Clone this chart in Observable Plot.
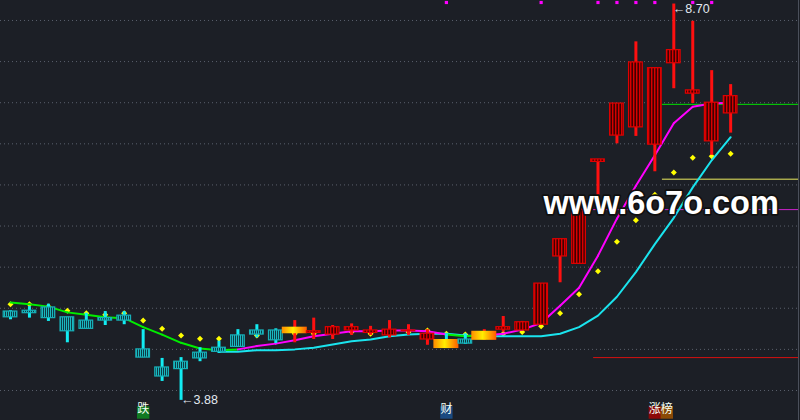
<!DOCTYPE html>
<html><head><meta charset="utf-8">
<script src="https://cdn.jsdelivr.net/npm/d3@7"></script>
<script src="https://cdn.jsdelivr.net/npm/@observablehq/plot@0.6"></script>
<style>
html,body{margin:0;padding:0;background:#1c1f26;}
#chart{width:800px;height:420px;overflow:hidden;}
svg{display:block;}
</style></head><body><div id="chart"></div>
<script>
// ---- data ----
const open  = [4.96,4.97,5.01,4.89,4.85,4.88,4.91,4.50,4.28,4.35,4.46,4.52,4.67,4.73,4.73,4.69,4.70,4.68,4.73,4.70,4.67,4.72,4.62,4.62,4.62,4.61,4.74,4.73,4.80,5.63,5.54,6.78,7.10,7.20,6.99,7.98,7.61,7.03,7.37];
const close = [4.89,4.94,4.88,4.72,4.75,4.85,4.85,4.40,4.17,4.26,4.39,4.47,4.53,4.68,4.61,4.77,4.72,4.77,4.77,4.73,4.74,4.73,4.69,4.51,4.57,4.72,4.77,4.83,5.30,5.84,6.20,6.81,7.49,7.99,7.92,8.14,7.65,7.50,7.58];
const high  = [4.97,5.02,5.05,4.89,4.94,4.96,4.96,4.74,4.39,4.40,4.52,4.60,4.74,4.80,4.75,4.85,4.88,4.79,4.81,4.78,4.85,4.80,4.74,4.69,4.69,4.74,4.90,4.84,5.30,5.84,6.20,6.81,7.49,8.24,7.92,8.70,8.49,7.89,7.72];
const low   = [4.86,4.88,4.84,4.58,4.75,4.79,4.80,4.40,4.11,3.88,4.35,4.45,4.53,4.64,4.57,4.58,4.62,4.62,4.67,4.67,4.64,4.67,4.55,4.51,4.56,4.61,4.71,4.73,4.80,5.31,5.54,6.20,7.00,7.09,6.66,7.67,7.49,6.86,7.13];
const goldCandles = [15, 23, 25];

const fastLine = [5.07,5.05,5.02,4.95,4.92,4.89,4.88,4.77,4.68,4.58,4.51,4.49,4.50,4.54,4.57,4.61,4.66,4.69,4.72,4.72,4.73,4.73,4.72,4.68,4.66,4.67,4.69,4.74,4.82,5.03,5.25,5.64,6.09,6.49,6.86,7.25,7.45,7.49,7.50];
// state of each fast-line segment: "fall" = green, "rise" = magenta
const fastState = [
  "fall","fall","fall","fall","fall","fall","fall","fall","fall","fall","fall","fall",
  "rise","rise","rise","rise","rise","rise","rise","rise","rise","rise","rise",
  "fall","fall",
  "rise","rise","rise","rise","rise","rise","rise","rise","rise","rise","rise","rise","rise"];
const slowStart = 11;
const slowLine = [4.47,4.47,4.49,4.49,4.50,4.52,4.56,4.60,4.62,4.66,4.68,4.69,4.69,4.67,4.66,4.66,4.66,4.66,4.69,4.77,4.91,5.14,5.44,5.78,6.10,6.47,6.80,7.08];
const sarDots = [5.05,5.05,5.02,4.97,4.94,4.92,4.94,4.85,4.75,4.67,4.63,4.63,4.66,4.67,4.68,4.69,4.69,4.69,4.71,4.69,4.69,4.71,4.73,4.69,4.68,4.69,4.69,4.71,4.78,4.94,5.17,5.45,5.81,6.07,6.38,6.65,6.83,6.85,6.88];

const gridTicks = [4, 4.5, 5, 5.5, 6, 6.5, 7, 7.5, 8, 8.5];
const levelValues = [7.48, 6.57, 6.20, 4.40];
const levelStart  = [34.4, 34.4, 30.77, 30.77];
const levelColors = ["#00e000", "#ecec60", "#cc22cc", "#d81010"];

const signalIdx = [23, 28, 31, 32, 33, 34, 36, 37];
const tagText   = ["跌", "财", "涨", "榜"];
const tagPos    = [7, 23, 34, 34.63];
const tagColors = ["#107a22", "#1a4a80", "#8c0808", "#8a4a06"];
const watermark = "www.6o7o.com";

// ---- build ----
const xDomain = [-0.528, 41.58];
const candles = open.map((o, i) => ({
  i, o, c: close[i], h: high[i], l: low[i],
  gold: goldCandles.includes(i), up: close[i] >= o
}));
const hw = d => d.gold ? 0.66 : 0.36;
const fastSegs = fastState.map((s, i) => ({x1: i, y1: fastLine[i], x2: i + 1, y2: fastLine[i + 1], s}));
const levels = levelValues.map((v, k) => ({v, s: levelStart[k], col: levelColors[k]}));
const tags = tagText.map((t, k) => ({t, x: tagPos[k], bg: tagColors[k]}));
const iLow = d3.minIndex(low), iHigh = d3.maxIndex(high);

const svg = Plot.plot({
  width: 800, height: 420,
  marginTop: 0, marginLeft: 0, marginBottom: 0, marginRight: 2,
  style: {background: "#1c1f26", overflow: "visible"},
  x: {type: "linear", domain: xDomain, range: [0, 798], axis: null},
  y: {type: "linear", domain: [3.635, 8.743], range: [420, 0], axis: null},
  color: {type: "identity"},
  marks: [
    Plot.ruleY(gridTicks, {stroke: "#5a606c", strokeDasharray: "1,3", strokeWidth: 1}),
    Plot.frame({anchor: "right", stroke: "#4a4f5a"}),
    Plot.ruleY(levels, {y: "v", x1: "s", x2: xDomain[1], stroke: "col", strokeWidth: 1}),
    Plot.dot(sarDots, {x: (d, i) => i, y: d => d, symbol: "diamond2", r: 2.7, fill: "#ffff00"}),
    Plot.line(slowLine, {x: (d, k) => k + slowStart, y: d => d, stroke: "#1ae4ee", strokeWidth: 2}),
    Plot.link(fastSegs, {x1: "x1", y1: "y1", x2: "x2", y2: "y2",
      stroke: d => d.s === "fall" ? "#00ee00" : "#ff00ff", strokeWidth: 2, strokeLinecap: "round"}),
    Plot.ruleX(candles, {x: "i", y1: "l", y2: "h", stroke: d => d.up ? "#ff1010" : "#12ecf2", strokeWidth: 3}),
    Plot.rect(candles, {
      x1: d => d.i - hw(d), x2: d => d.i + hw(d), y1: "o", y2: "c",
      fill: d => d.gold ? "url(#goldGrad)" : d.up ? "url(#stripeRed)" : "url(#stripeCyan)",
      stroke: d => d.gold ? "none" : d.up ? "#e00000" : "#17b0b8", strokeWidth: 1.2
    }),
    Plot.dot(signalIdx, {x: d => d, frameAnchor: "top", dy: 2, symbol: "square", r: 1.8, fill: "#ff00ff"}),
    Plot.dot(tags, {x: "x", frameAnchor: "bottom", dy: -8, symbol: "square", r: 7, fill: "bg"}),
    Plot.text(tags, {x: "x", text: "t", frameAnchor: "bottom", dy: -8, fill: "#f4fff4",
      fontSize: 12, fontFamily: "Noto Sans CJK SC"}),
    Plot.text([iLow], {x: d => d, y: d => low[d], text: d => "←" + low[d].toFixed(2),
      textAnchor: "start", dx: 0, fill: "#e2e9f0", fontSize: 12.5, fontFamily: "Liberation Sans"}),
    Plot.text([iHigh], {x: d => d, y: d => high[d], text: d => "←" + high[d].toFixed(2),
      textAnchor: "start", dx: -1, dy: 5, fill: "#e2e9f0", fontSize: 12.5, fontFamily: "Liberation Sans"}),
    Plot.text([watermark], {frameAnchor: "top-left", dx: 543, dy: 190, textAnchor: "start",
      fill: "#ffffff", stroke: "#101010", strokeWidth: 3.5, paintOrder: "stroke",
      fontSize: 32.5, fontWeight: "bold", fontFamily: "Liberation Sans"})
  ]
});

const defs = d3.select(svg).insert("defs", ":first-child");
const pr = defs.append("pattern").attr("id", "stripeRed").attr("patternUnits", "userSpaceOnUse").attr("width", 3).attr("height", 4);
pr.append("rect").attr("width", 3).attr("height", 4).attr("fill", "#400000");
pr.append("rect").attr("width", 1.4).attr("height", 4).attr("fill", "#d80000");
const pc = defs.append("pattern").attr("id", "stripeCyan").attr("patternUnits", "userSpaceOnUse").attr("width", 2).attr("height", 4);
pc.append("rect").attr("width", 2).attr("height", 4).attr("fill", "#0c3c46");
pc.append("rect").attr("width", 1).attr("height", 4).attr("fill", "#1ab8c0");
const gg = defs.append("linearGradient").attr("id", "goldGrad").attr("x1", 0).attr("x2", 1).attr("y1", 0).attr("y2", 0);
gg.append("stop").attr("offset", "0%").attr("stop-color", "#ff8a00");
gg.append("stop").attr("offset", "45%").attr("stop-color", "#ffee00");
gg.append("stop").attr("offset", "100%").attr("stop-color", "#ff5a00");

document.getElementById("chart").appendChild(svg);
</script>
</body></html>
